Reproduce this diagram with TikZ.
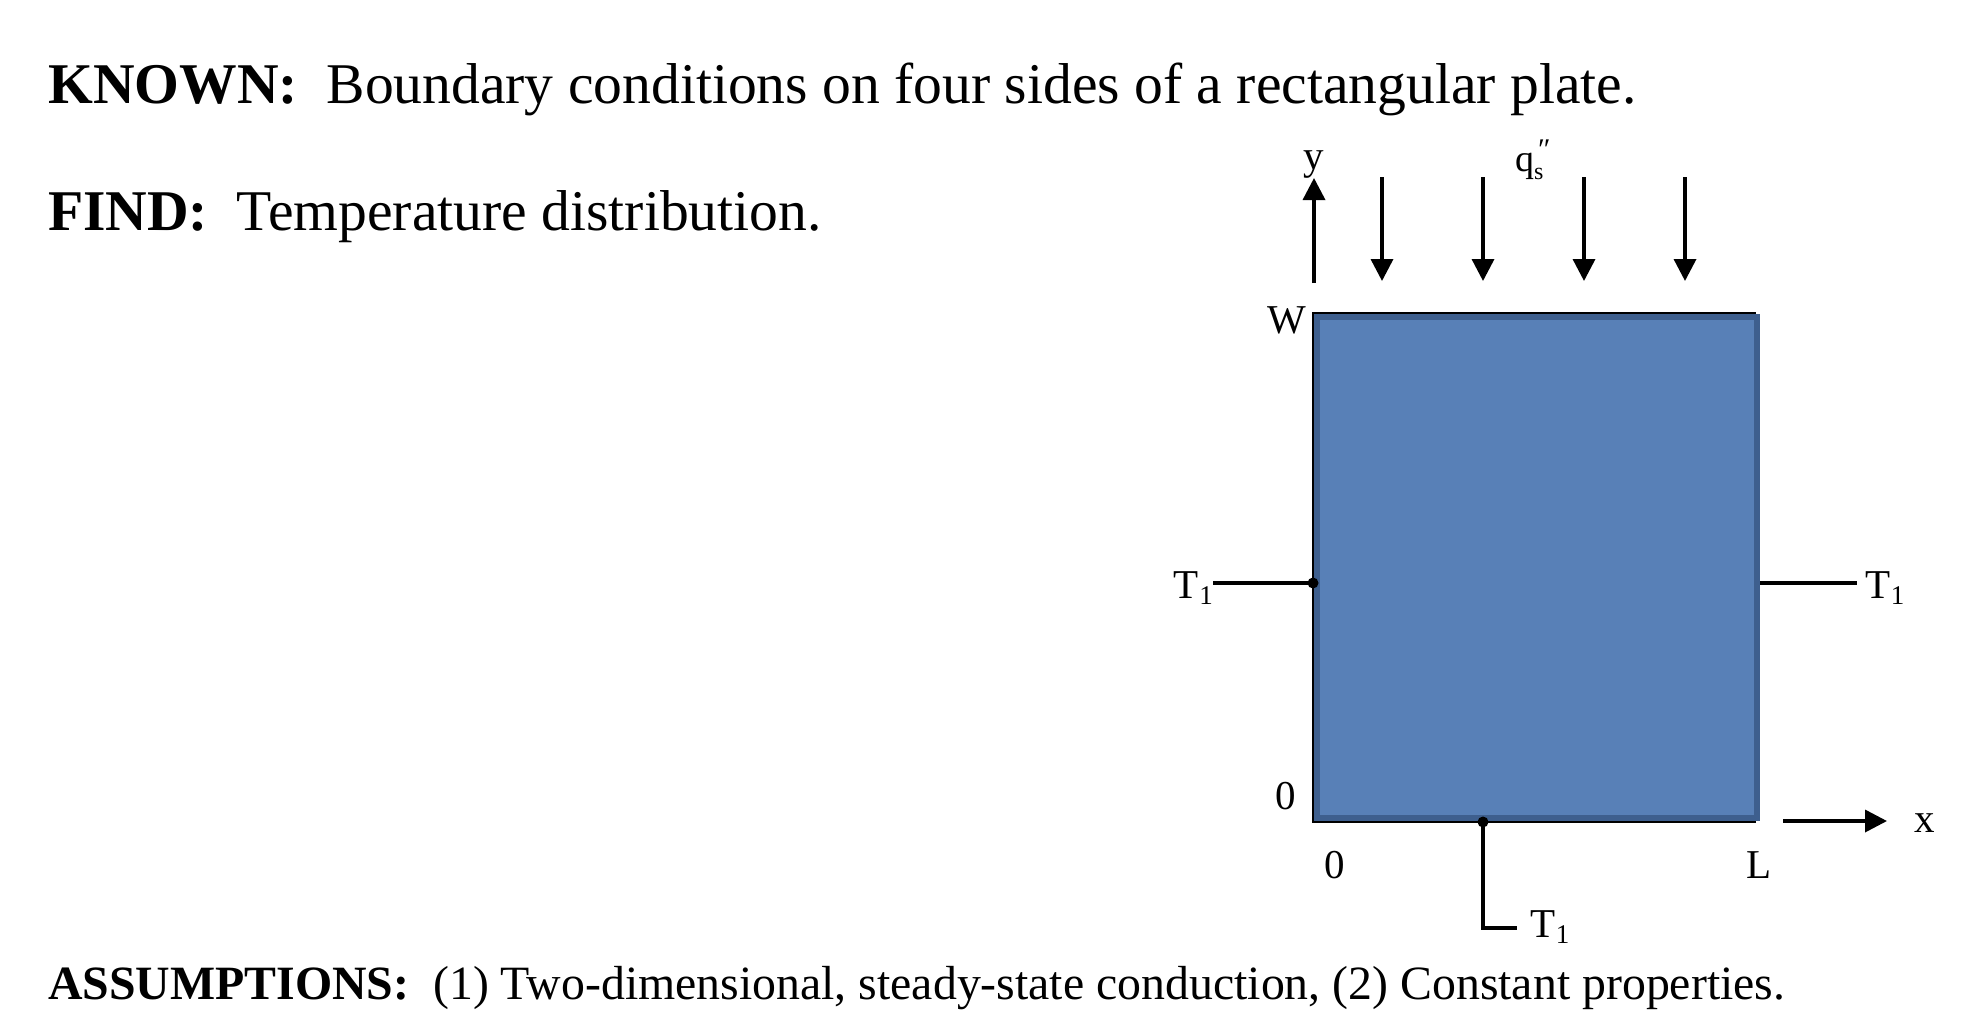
\documentclass[tikz,border=0pt]{standalone}
\usepackage{fontspec}
\setmainfont{Liberation Serif}
\usetikzlibrary{arrows.meta,calc}
\definecolor{plateblue}{HTML}{5880B7}
\definecolor{platedark}{HTML}{3E5F8E}
\newcommand{\Tsub}{T\kern0.5pt\raisebox{-6pt}{\fontsize{27}{27}\selectfont 1}}
\newcommand{\qflux}{{\fontsize{38}{38}\selectfont q}\rlap{\raisebox{-8pt}{\fontsize{24}{24}\selectfont s}}\kern4pt\raisebox{12pt}{\fontsize{30}{30}\selectfont ″}}
\begin{document}
\begin{tikzpicture}[x=1pt,y=-1pt,
  lbl/.style={inner sep=0pt, font=\fontsize{41}{41}\selectfont},
  head/.style={inner sep=0pt, font=\fontsize{57.6}{60}\selectfont, anchor=base west},
  foot/.style={inner sep=0pt, font=\fontsize{47.8}{52}\selectfont, anchor=base west},
  conn/.style={line width=3.5pt},
  arr/.style={line width=3.5pt, -{Triangle[length=22pt,width=22pt]}},
  dot/.style={circle, fill=black, inner sep=0pt, minimum size=11pt}
]
\useasboundingbox (0,0) rectangle (1970,1020);

% texts
\node[head] (known) at (48,103) {\textbf{KNOWN:}\hspace{0.5em}Boundary conditions on four sides of a rectangular plate.};
\node[head] (find) at (48,230) {\textbf{FIND:}\hspace{0.5em}Temperature distribution.};
\node[foot] (assum) at (48,999) {\textbf{ASSUMPTIONS:}\hspace{0.5em}(1) Two-dimensional, steady-state conduction, (2) Constant properties.};

% plate
\draw[line width=2pt, black] (1313,313) rectangle (1755,822);
\draw[fill=plateblue, draw=platedark, line width=6pt] (1317,317) rectangle (1757,818);
\node[inner sep=0pt, minimum width=442pt, minimum height=509pt] (plate) at (1534,567.5) {};

% axis labels
\node[lbl, anchor=base] (ylab) at (1314,169) {y};
\node[lbl, anchor=base west, inner sep=0pt] (qlab) at (1515,171) {\qflux};
\node[lbl, anchor=base east] (wlab) at (1306,333) {W};
\node[lbl, anchor=base east] (zl) at (1296,809) {0};
\node[lbl, anchor=base] (zb) at (1335,878) {0};
\node[lbl, anchor=base] (llab) at (1759,878) {L};
\node[lbl, anchor=base] (xlab) at (1925,832) {x};

% T1 labels
\node[lbl, anchor=base east] (t1l) at (1213,598) {\Tsub};
\node[lbl, anchor=base west] (t1r) at (1865,598) {\Tsub};
\node[lbl, anchor=base west] (t1b) at (1530,937) {\Tsub};

% connectors
\coordinate (lp) at (1313,583);
\coordinate (rp) at (1760,583);
\coordinate (bp) at (1483,822);
\coordinate (bc) at (1483,928);
\node[dot] (ldot) at (lp) {};
\node[dot] (bdot) at (bp) {};
\draw[conn] (t1l.east |- lp) -- (ldot.center);
\draw[conn] (rp) -- ($(t1r.west |- rp)+(-8,0)$);
\draw[conn] (bdot.center) -- (bc) -- ($(t1b.west |- bc)+(-13,0)$);

% y axis arrow
\coordinate (ys) at (1314,283);
\coordinate (ye) at (1314,178);
\draw[arr] (ys) -- (ye);

% flux arrows
\foreach \i/\xx in {1/1382,2/1483,3/1584,4/1685}{
  \coordinate (fs\i) at (\xx,177);
  \coordinate (fe\i) at (\xx,281);
  \draw[arr] (fs\i) -- (fe\i);
}

% x axis arrow
\coordinate (xs) at (1783,821);
\coordinate (xe) at (1887,821);
\draw[arr] (xs) -- (xe);
\end{tikzpicture}
\end{document}
